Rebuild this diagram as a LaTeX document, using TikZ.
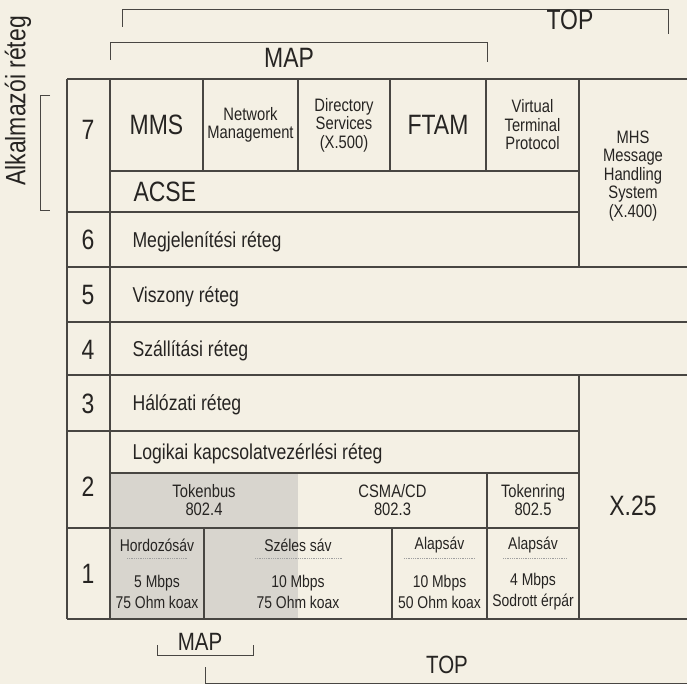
\documentclass[tikz,border=0pt]{standalone}
\usepackage{fontspec}
\setmainfont[FakeStretch=0.82]{Liberation Sans}
\usetikzlibrary{positioning}
\definecolor{paper}{RGB}{244,240,228}
\definecolor{ink}{RGB}{38,36,34}
\definecolor{rule}{RGB}{72,70,66}
\definecolor{tonegray}{RGB}{216,213,206}
\newcommand{\lbig}{\fontsize{28}{30}\selectfont}
\newcommand{\lrow}{\fontsize{21.5}{23}\selectfont}
\newcommand{\lsmall}{\fontsize{18}{18.5}\selectfont}

\begin{document}
\begin{tikzpicture}[x=1pt, y=-1pt, line width=1.1pt,
    every node/.style={text=ink, inner sep=0pt},
    big/.style={font=\lbig, text height=20pt, text depth=0pt},
    rowlab/.style={font=\lrow, anchor=west, text height=15.4pt, text depth=0pt},
    small/.style={font=\lsmall, align=center},
    phys/.style={align=center, font={\fontsize{17}{21}\selectfont}},
    sep/.style={draw=gray!75, line width=0.8pt, densely dotted},
    brk/.style={draw=rule, line width=0.9pt}]
    \fill[paper] (0,0) rectangle (687,684);
    \useasboundingbox (0,0) rectangle (687,684);

    \fill[tonegray] (110,473) rectangle (298,619);

    \draw[rule] (67,79) -- (687,79);
    \draw[rule] (67,79) -- (67,619) (110,79) -- (110,619);
    \draw[rule] (110,171) -- (579,171);
    \foreach \xc in {203,298,390,486}
        \draw[rule] (\xc,79) -- (\xc,171);
    \draw[rule] (579,79) -- (579,267);
    \draw[rule] (67,212) -- (579,212);
    \foreach \yc in {267,322,375}
        \draw[rule] (67,\yc) -- (687,\yc);
    \draw[rule] (67,431) -- (579,431) (579,375) -- (579,619);
    \draw[rule] (110,473) -- (579,473) (67,528) -- (579,528);
    \draw[rule] (67,619) -- (687,619);
    \draw[rule] (487,473) -- (487,619) (204,528) -- (204,619) (392,528) -- (392,619);

    \node[big] (n7) at (88,130) {7};
    \node[big] (n6) at (88,240) {6};
    \node[big] (n5) at (88,295) {5};
    \node[big] (n4) at (88,349) {4};
    \node[big] (n3) at (88,403) {3};
    \node[big] (n2) at (88,486) {2};
    \node[big] (n1) at (88,573) {1};

    \node[big] (mms) at (156.5,125) {MMS};
    \node[small] (netmgmt) at (250.5,125) {Network\\Management};
    \node[small] (dirsvc) at (344,125) {Directory\\Services\\(X.500)};
    \node[big] (ftam) at (438,125) {FTAM};
    \node[small] (vtp) at (532.5,125) {Virtual\\Terminal\\Protocol};
    \node[small] (mhs) at (633,176) {MHS\\Message\\Handling\\System\\(X.400)};
    \node[big, anchor=west] (acse) at (133,191.5) {ACSE};

    \node[rowlab] (pres) at (132,240) {Megjelenítési réteg};
    \node[rowlab] (sess) at (132,295) {Viszony réteg};
    \node[rowlab] (trans) at (132,349) {Szállítási réteg};
    \node[rowlab] (netw) at (132,403) {Hálózati réteg};
    \node[rowlab] (llc) at (132,452) {Logikai kapcsolatvezérlési réteg};

    \node[small] (tbus) at (204,500) {Tokenbus\\802.4};
    \node[small] (csma) at (392.5,500) {CSMA/CD\\802.3};
    \node[small] (tring) at (533,500) {Tokenring\\802.5};
    \node[big] (x25) at (633,505) {X.25};

    \node[phys] (hord) at (157,545) {Hordozósáv};
    \node[phys] (szeles) at (298,545) {Széles sáv};
    \node[phys] (alap50) at (439.5,545) {Alapsáv};
    \node[phys] (alap4) at (533,545) {Alapsáv};
    \draw[sep] (127,558) -- (187,558) (255,558) -- (343,558)
        (404,558) -- (475,558) (503,558) -- (567,558);
    \node[phys] (hordv) at (157,592) {5 Mbps\\75 Ohm koax};
    \node[phys] (szelesv) at (298,592) {10 Mbps\\75 Ohm koax};
    \node[phys] (alap50v) at (439.5,592) {10 Mbps\\50 Ohm koax};
    \node[phys] (alap4v) at (533,592) {4 Mbps\\Sodrott érpár};

    \draw[brk] (122,27) -- (122,9) -- (668,9) -- (668,34);
    \node[big] (toptop) at (570,20) {TOP};
    \draw[brk] (110,60) -- (110,42) -- (487,42) -- (487,62);
    \node[big] (maptop) at (289,58) {MAP};

    \draw[brk] (50,95) -- (40,95) -- (40,210) -- (50,210);
    \node[font=\lbig, rotate=90] (alk) at (18,101) {Alkalmazói réteg};

    \node[font=\fontsize{25}{27}\selectfont, text height=18pt, text depth=0pt] (mapbot) at (200,641) {MAP};
    \draw[brk] (157,645) -- (157,655) -- (253,655) -- (253,645);
    \node[font=\fontsize{25}{27}\selectfont, text height=18pt, text depth=0pt] (topbot) at (447,664) {TOP};
    \draw[brk] (205,667) -- (205,683) -- (687,683);
\end{tikzpicture}
\end{document}
